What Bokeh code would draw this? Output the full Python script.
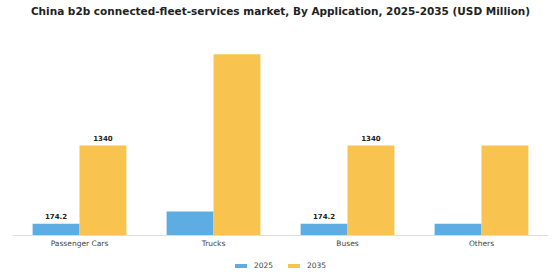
from bokeh.plotting import figure
from bokeh.models import ColumnDataSource, Range1d, FactorRange, Legend, LegendItem, Label, Span
from bokeh.transform import dodge
from bokeh.core.properties import value
from bokeh.embed import file_html
from bokeh.resources import INLINE

title_text = "China b2b connected-fleet-services market, By Application, 2025-2035 (USD Million)"
categories = ["Passenger Cars", "Trucks", "Buses", "Others"]
values_2025 = [174.2, 357, 174.2, 174.2]
values_2035 = [1340, 2700, 1340, 1340]
label_2025 = ["174.2", "", "174.2", ""]
label_2035 = ["1340", "", "1340", ""]
series_names = ["2025", "2035"]

BLUE = "#5DADE2"
YELLOW = "#F8C44F"

src = ColumnDataSource(dict(cat=categories, v25=values_2025, v35=values_2035,
                            l25=label_2025, l35=label_2035, zero=[0] * len(categories)))

p = figure(width=560, height=280, x_range=FactorRange(*categories),
           y_range=Range1d(-670, 3499), output_backend="svg", toolbar_location=None,
           x_axis_location=None, y_axis_location=None,
           min_border_left=12, min_border_right=12, min_border_top=0, min_border_bottom=0)
p.x_range.range_padding = 0
p.outline_line_color = None
p.xgrid.visible = False
p.ygrid.visible = False

w = 0.35
r1 = p.vbar(x=dodge("cat", -w / 2, range=p.x_range), top="v25", width=w, source=src,
            fill_color=BLUE, line_color=None)
r2 = p.vbar(x=dodge("cat", w / 2, range=p.x_range), top="v35", width=w, source=src,
            fill_color=YELLOW, line_color=None)

p.add_layout(Span(location=0, dimension="width", line_color="#dddddd", line_width=1))

p.text(x=dodge("cat", -w / 2, range=p.x_range), y="v25", text="l25", source=src,
       text_align="center", text_baseline="bottom", y_offset=-5,
       text_font=value("DejaVu Sans"), text_font_style="bold", text_font_size="7px",
       text_color="#222222")
p.text(x=dodge("cat", w / 2, range=p.x_range), y="v35", text="l35", source=src,
       text_align="center", text_baseline="bottom", y_offset=-5,
       text_font=value("DejaVu Sans"), text_font_style="bold", text_font_size="7px",
       text_color="#222222")

# category labels (x axis)
p.text(x="cat", y="zero", text="cat", source=src, text_align="center", text_baseline="top",
       y_offset=3, text_font=value("DejaVu Sans"), text_font_size="7.5px", text_color="#444444")

legend = Legend(items=[LegendItem(label=series_names[0], renderers=[r1]),
                       LegendItem(label=series_names[1], renderers=[r2])],
                orientation="horizontal", location=(221, 10),
                label_text_font="DejaVu Sans", label_text_font_size="7.5px",
                label_text_color="#444444", glyph_width=15, glyph_height=5,
                spacing=12, padding=0, margin=0, border_line_color=None,
                label_standoff=6, background_fill_alpha=0)
p.add_layout(legend, "center")

p.add_layout(Label(x=2, y=270, x_units="data", y_units="screen", text=title_text,
                   text_align="center", text_baseline="middle", text_font="DejaVu Sans",
                   text_font_style="bold", text_font_size="10.5px", text_color="#222222"))

open("out.html", "w").write(file_html(p, INLINE))
